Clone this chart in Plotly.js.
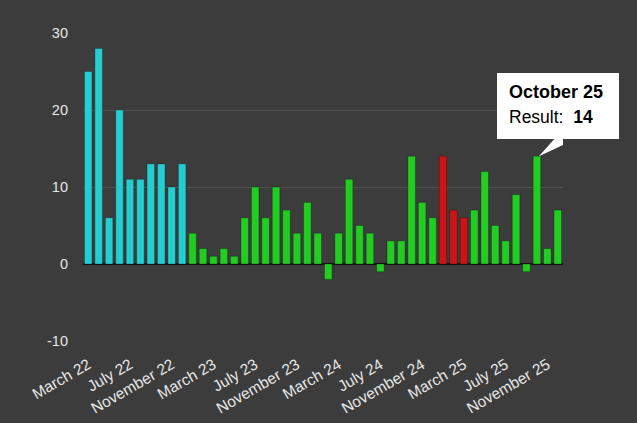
<!DOCTYPE html>
<html>
<head>
<meta charset="utf-8">
<script src="https://cdn.plot.ly/plotly-3.0.1.min.js"></script>
<style>
  html, body { margin: 0; padding: 0; background: #3c3c3c; }
  #chart { width: 637px; height: 423px; }
</style>
</head>
<body>
<div id="chart"></div>
<script>
// ---- data ----
var months = [
  "March 22", "April 22", "May 22", "June 22", "July 22", "August 22", "September 22", "October 22", "November 22", "December 22",
  "January 23", "February 23", "March 23", "April 23", "May 23", "June 23", "July 23", "August 23", "September 23", "October 23", "November 23", "December 23",
  "January 24", "February 24", "March 24", "April 24", "May 24", "June 24", "July 24", "August 24", "September 24", "October 24", "November 24", "December 24",
  "January 25", "February 25", "March 25", "April 25", "May 25", "June 25", "July 25", "August 25", "September 25", "October 25", "November 25", "December 25"
];
var results = [
  25, 28, 6, 20, 11, 11, 13, 13, 10, 13,
  4, 2, 1, 2, 1, 6, 10, 6, 10, 7, 4, 8,
  4, -2, 4, 11, 5, 4, -1, 3, 3, 14, 8, 6,
  14, 7, 6, 7, 12, 5, 3, 9, -1, 14, 2, 7
];
// colour group of each bar: c = cyan, g = green, r = red
var groups = [
  "c","c","c","c","c","c","c","c","c","c",
  "g","g","g","g","g","g","g","g","g","g","g","g",
  "g","g","g","g","g","g","g","g","g","g","g","g",
  "r","r","r","g","g","g","g","g","g","g","g","g"
];
var tickLabels = ["March 22", "July 22", "November 22", "March 23", "July 23", "November 23",
                  "March 24", "July 24", "November 24", "March 25", "July 25", "November 25"];
var yTickValues = [-10, 0, 10, 20, 30];
var yTickLabels = ["-10", "0", "10", "20", "30"];
var tooltipMonth = "October 25";

// ---- styling ----
var palette = { c: "#26CDD0", g: "#22CC22", r: "#CC1414" };
var barColors = groups.map(function (g) { return palette[g]; });
var tipIndex = months.indexOf(tooltipMonth);
var tipValue = results[tipIndex];

var font = "'Liberation Sans', Arial, Helvetica, sans-serif";

var trace = {
  type: "bar",
  x: months,
  y: results,
  marker: { color: barColors, line: { color: "rgba(0,0,0,0.25)", width: 1 } },
  hoverinfo: "skip"
};

var layout = {
  width: 637,
  height: 423,
  paper_bgcolor: "#3c3c3c",
  plot_bgcolor: "#3c3c3c",
  margin: { l: 83, r: 74, t: 33, b: 82 },
  showlegend: false,
  bargap: 0.28,
  font: { family: font, color: "#e6e6e6", size: 14 },
  xaxis: {
    type: "category",
    range: [-0.5, months.length - 0.5],
    tickvals: tickLabels,
    ticktext: tickLabels,
    tickangle: -30,
    showgrid: false,
    zeroline: false,
    showline: false,
    ticks: "",
    ticklabelstandoff: 11,
    tickfont: { family: font, size: 15.5, color: "#e6e6e6" },
    fixedrange: true
  },
  yaxis: {
    range: [-10, 30],
    tickvals: yTickValues,
    ticktext: yTickLabels,
    showgrid: true,
    gridcolor: "#525252",
    gridwidth: 1,
    zeroline: true,
    zerolinecolor: "#151515",
    zerolinewidth: 1.5,
    showline: false,
    ticks: "",
    ticklabelstandoff: 14,
    tickfont: { family: font, size: 14.5, color: "#e6e6e6" },
    fixedrange: true
  },
  shapes: [
    {
      // pointer of the tooltip bubble
      type: "path",
      xref: "x", yref: "y",
      xsizemode: "pixel", ysizemode: "pixel",
      xanchor: tooltipMonth, yanchor: tipValue,
      path: "M 2,0 L 19,19 L 43,19 Z",
      fillcolor: "#ffffff",
      line: { color: "#ffffff", width: 0 },
      layer: "above"
    }
  ],
  annotations: [
    {
      // tooltip box
      x: tooltipMonth, y: tipValue, xref: "x", yref: "y",
      text: " ",
      showarrow: false,
      xanchor: "center", yanchor: "middle",
      xshift: 21, yshift: 50,
      width: 120, height: 64,
      bgcolor: "#ffffff",
      bordercolor: "#ffffff",
      borderwidth: 1,
      borderpad: 0
    },
    {
      x: tooltipMonth, y: tipValue, xref: "x", yref: "y",
      text: "<b>" + tooltipMonth + "</b>",
      showarrow: false,
      xanchor: "left", yanchor: "middle",
      xshift: -30, yshift: 64,
      font: { family: font, size: 18, color: "#000000" }
    },
    {
      x: tooltipMonth, y: tipValue, xref: "x", yref: "y",
      text: "Result:  <b>" + tipValue + "</b>",
      showarrow: false,
      xanchor: "left", yanchor: "middle",
      xshift: -30, yshift: 39,
      font: { family: font, size: 17.5, color: "#000000" }
    }
  ]
};

Plotly.newPlot("chart", [trace], layout, { displayModeBar: false, staticPlot: true });
</script>
</body>
</html>
